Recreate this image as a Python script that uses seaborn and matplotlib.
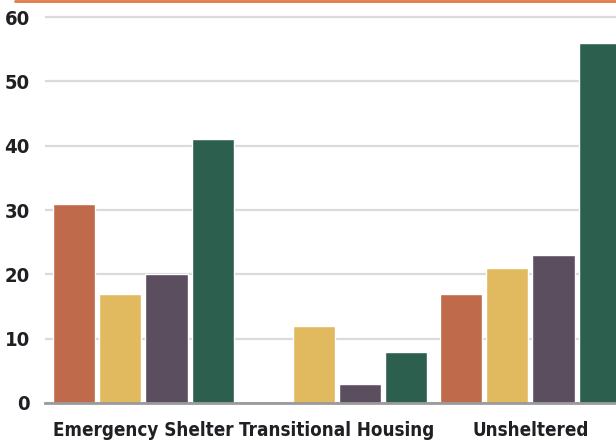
import matplotlib
matplotlib.use("Agg")
import matplotlib.pyplot as plt
from matplotlib.lines import Line2D
import seaborn as sns
import pandas as pd

categories = ["Emergency Shelter", "Transitional Housing", "Unsheltered"]
series = ["Group 1", "Group 2", "Group 3", "Group 4"]
values = {
    "Group 1": [31, 0, 17],
    "Group 2": [17, 12, 21],
    "Group 3": [20, 3, 23],
    "Group 4": [41, 8, 56],
}
colors = ["#BF6A4A", "#E1BA5F", "#5B4E5E", "#2D5F4F"]
yticks = [0, 10, 20, 30, 40, 50, 60]

rows = [(c, s, values[s][i]) for s in series for i, c in enumerate(categories)]
df = pd.DataFrame(rows, columns=["category", "series", "value"])

sns.set_style("white")
plt.rcParams["font.family"] = ["DejaVu Sans"]
plt.rcParams["font.stretch"] = "condensed"

fig = plt.figure(figsize=(6.16, 4.46), dpi=100)
ax = fig.add_axes([45 / 616, 43 / 446, 1 - 45 / 616, (403 - 13.8) / 446])

sns.barplot(data=df, x="category", y="value", hue="series", order=categories,
            hue_order=series, palette=colors, width=0.953, gap=0.087,
            saturation=1, legend=False, ax=ax, zorder=3)

ax.set_xlim(-0.509, 2.442)
ax.set_ylim(0, 60.5)
ax.set_yticks(yticks)
ax.yaxis.grid(True, color="#DADADA", linewidth=1.6, zorder=0)
ax.set_axisbelow(True)
for s in ["top", "right", "left"]:
    ax.spines[s].set_visible(False)
ax.spines["bottom"].set_color("#9A9A9A")
ax.spines["bottom"].set_linewidth(2)
ax.spines["bottom"].set_zorder(4)
ax.set_xlabel("")
ax.set_ylabel("")
ax.tick_params(axis="both", length=0)
ax.tick_params(axis="y", pad=11, labelsize=14.5, labelcolor="#1F1F24")
ax.tick_params(axis="x", pad=13, labelsize=13.5, labelcolor="#1F1F24")
for lab in ax.get_xticklabels() + ax.get_yticklabels():
    lab.set_fontweight("bold")
    lab.set_fontstretch("condensed")

fig.add_artist(Line2D([15 / 616, 1], [1 - 1 / 446, 1 - 1 / 446],
                      transform=fig.transFigure, color="#E07B45", linewidth=2))

fig.savefig("out.png", dpi=100, facecolor="white")
